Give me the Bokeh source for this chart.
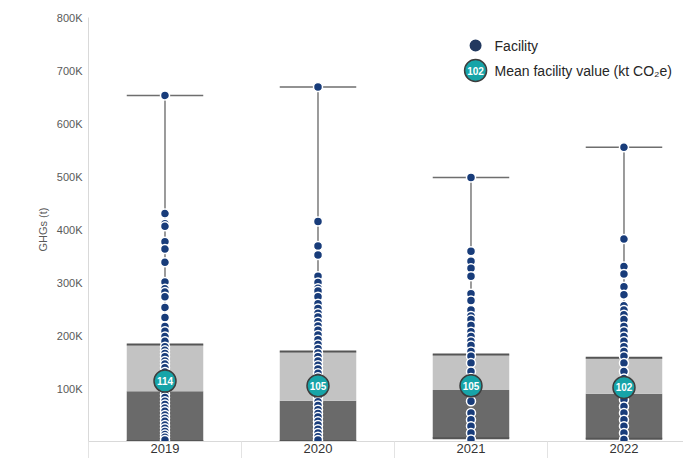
from bokeh.plotting import figure
from bokeh.models import ColumnDataSource, Range1d, FixedTicker
from bokeh.core.properties import value
from bokeh.embed import file_html
from bokeh.resources import INLINE

# ---- data (kt CO2e unless noted) ----
years = ["2019", "2020", "2021", "2022"]
box_q1 = [1, 1, 6, 5]
box_median = [95, 77, 97, 90]
box_q3 = [183, 170, 164, 158]
box_max = [653, 669, 498, 555]
mean_kt = [114, 105, 105, 102]

fac_2019 = [653, 430, 411, 406, 377, 363, 338, 301, 288, 282, 273, 253, 234, 217,
            208, 198, 189, 179, 172, 166, 160, 152, 146, 139, 131, 124, 117, 110,
            103, 95, 89, 83, 76, 70, 63, 57, 50, 44, 38, 31, 25, 19, 13, 8, 3]
fac_2020 = [669, 415, 369, 352, 312, 300, 289, 284, 273, 260, 251, 242, 235, 226,
            218, 210, 201, 192, 183, 175, 167, 160, 152, 144, 137, 129, 121, 114,
            98, 90, 83, 75, 68, 60, 53, 46, 38, 31, 23, 16, 9, 3]
fac_2021 = [498, 359, 340, 327, 312, 279, 266, 248, 237, 230, 219, 207, 198, 189,
            181, 170, 161, 148, 132, 120, 94, 76, 54, 41, 29, 16, 4]
fac_2022 = [555, 382, 330, 316, 292, 277, 256, 248, 239, 230, 217, 208, 198, 189,
            179, 170, 161, 148, 132, 119, 88, 79, 66, 54, 41, 29, 16, 4]
facilities = [fac_2019, fac_2020, fac_2021, fac_2022]

y_ticks = [100000, 200000, 300000, 400000, 500000, 600000, 700000, 800000]
y_tick_labels = ["100K", "200K", "300K", "400K", "500K", "600K", "700K", "800K"]

KT = 1000  # tonnes per kt
FONT = value("Liberation Sans")

p = figure(width=683, height=458, output_backend="svg", toolbar_location=None,
           x_range=Range1d(-0.5, 3.389), y_range=Range1d(0, 800000),
           min_border_left=88, min_border_right=0, min_border_top=17,
           min_border_bottom=17)
p.outline_line_color = None
p.grid.grid_line_color = None
p.background_fill_color = "white"

# x axis: year labels at centres, separators between categories
xpos = list(range(len(years)))
p.xaxis.ticker = FixedTicker(ticks=xpos, minor_ticks=[i - 0.5 for i in range(len(years) + 1)])
p.xaxis.major_label_overrides = {i: y for i, y in enumerate(years)}
p.xaxis.major_tick_line_color = None
p.xaxis.major_tick_out = 0
p.xaxis.major_tick_in = 0
p.xaxis.minor_tick_out = 17
p.xaxis.minor_tick_in = 0
p.xaxis.minor_tick_line_color = "#e3e3e3"
p.xaxis.axis_line_color = "#d9d9d9"
p.xaxis.major_label_standoff = -15
p.xaxis.major_label_text_font = "Liberation Sans"
p.xaxis.major_label_text_font_size = "13px"
p.xaxis.major_label_text_color = "#333333"

# y axis
p.yaxis.ticker = FixedTicker(ticks=y_ticks, minor_ticks=[])
p.yaxis.major_label_overrides = {t: l for t, l in zip(y_ticks, y_tick_labels)}
p.yaxis.major_tick_line_color = None
p.yaxis.major_tick_out = 0
p.yaxis.major_tick_in = 0
p.yaxis.axis_line_color = "#d9d9d9"
p.yaxis.major_label_standoff = 6
p.yaxis.major_label_text_font = "Liberation Sans"
p.yaxis.major_label_text_font_size = "11px"
p.yaxis.major_label_text_color = "#595959"
p.yaxis.axis_label = "GHGs (t)"
p.yaxis.axis_label_text_font = "Liberation Sans"
p.yaxis.axis_label_text_font_size = "11px"
p.yaxis.axis_label_text_font_style = "normal"
p.yaxis.axis_label_text_color = "#595959"
p.yaxis.axis_label_standoff = 5

# boxes
box = ColumnDataSource(dict(
    x=xpos,
    q1=[v * KT for v in box_q1],
    med=[v * KT for v in box_median],
    q3=[v * KT for v in box_q3],
    top=[v * KT for v in box_max],
    left=[i - 0.25 for i in xpos],
    right=[i + 0.25 for i in xpos],
))
p.vbar(x="x", width=0.5, bottom="q1", top="med", source=box,
       fill_color="#6a6a6a", line_color=None)
p.vbar(x="x", width=0.5, bottom="med", top="q3", source=box,
       fill_color="#c3c3c3", line_color=None)
p.segment(x0="left", y0="q3", x1="right", y1="q3", source=box,
          line_color="#555555", line_width=2)
p.segment(x0="left", y0="q1", x1="right", y1="q1", source=box,
          line_color="#555555", line_width=2)

# whiskers up to the largest facility
p.segment(x0="x", y0="q3", x1="x", y1="top", source=box,
          line_color="#7a7a7a", line_width=1.5)
p.segment(x0="left", y0="top", x1="right", y1="top", source=box,
          line_color="#6e6e6e", line_width=1.5)

# individual facilities
fx, fy = [], []
for i, vals in enumerate(facilities):
    fx += [i] * len(vals)
    fy += [v * KT for v in vals]
fac = ColumnDataSource(dict(x=fx, y=fy))
p.scatter(x="x", y="y", source=fac, size=9, fill_color="#183c7a",
          line_color="white", line_width=1.5)

# mean facility markers
means = ColumnDataSource(dict(x=xpos, y=[m * KT for m in mean_kt],
                              label=[str(m) for m in mean_kt]))
p.scatter(x="x", y="y", source=means, size=22, fill_color="#17a4a8",
          line_color="#3d3d3d", line_width=1.5)
p.text(x="x", y="y", text="label", source=means, text_align="center",
       text_baseline="middle", text_font=FONT, text_font_style="bold",
       text_font_size="10px", text_color="white")

# legend
leg_x, leg_tx = 2.03, 2.154
leg = ColumnDataSource(dict(x=[leg_x], y=[747000]))
p.scatter(x="x", y="y", source=leg, size=12, fill_color="#22395f", line_color=None)
leg2 = ColumnDataSource(dict(x=[leg_x], y=[700000], label=[str(mean_kt[-1])]))
p.scatter(x="x", y="y", source=leg2, size=22, fill_color="#17a4a8",
          line_color="#3d3d3d", line_width=1.5)
p.text(x="x", y="y", text="label", source=leg2, text_align="center",
       text_baseline="middle", text_font=FONT, text_font_style="bold",
       text_font_size="10px", text_color="white")
leg_text = ColumnDataSource(dict(x=[leg_tx, leg_tx], y=[747000, 700000],
                                 label=["Facility", "Mean facility value (kt CO\u2082e)"]))
p.text(x="x", y="y", text="label", source=leg_text, text_align="left",
       text_baseline="middle", text_font=FONT, text_font_size="14px",
       text_color="#262626")

open("out.html", "w").write(file_html(p, INLINE))
